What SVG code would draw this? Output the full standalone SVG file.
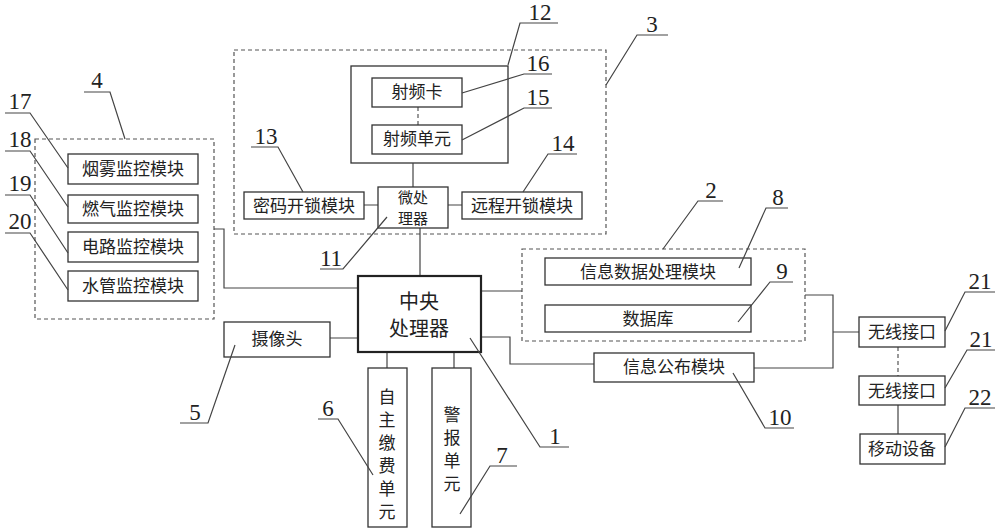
<svg xmlns="http://www.w3.org/2000/svg" width="1000" height="530" viewBox="0 0 1000 530">
<style>
.b{fill:#fff;stroke:#333;stroke-width:1.3}
.d{fill:none;stroke:#555;stroke-width:1.2;stroke-dasharray:4 3}
.l{fill:none;stroke:#444;stroke-width:1.2}
.t{font-family:"Noto Sans CJK SC",sans-serif;font-size:17px;fill:#222;text-anchor:middle}
.n{font-family:"Liberation Serif",serif;font-size:23px;fill:#222;text-anchor:middle}
</style>
<rect width="1000" height="530" fill="#fff"/>
<g id="group3"><rect class="d" x="234" y="50" width="372" height="184"/></g>
<g id="group4"><rect class="d" x="35" y="139" width="179" height="180"/></g>
<g id="group2"><rect class="d" x="522" y="249" width="283" height="92"/></g>
<g id="n12"><rect x="351" y="66" width="157" height="97" fill="none" stroke="#333" stroke-width="1.3"/></g>
<g id="connectors">
<path class="l" d="M413 163V187M364 205H378M448 205H462M420 228V276M214 229H224V288H358M330 338H358M387 352V368M454 352V368M481 291H522M481 337H510V364H594M805 295H833V368H754M833 332H859M898 405V434"/>
<path class="d" d="M418 107V125M898 347V376"/>
</g>
<g id="n17"><rect class="b" x="68" y="154" width="130" height="30"/><text class="t" x="133" y="175">烟雾监控模块</text></g>
<g id="n18"><rect class="b" x="68" y="195" width="130" height="28"/><text class="t" x="133" y="215">燃气监控模块</text></g>
<g id="n19"><rect class="b" x="68" y="232" width="130" height="30"/><text class="t" x="133" y="253">电路监控模块</text></g>
<g id="n20"><rect class="b" x="68" y="271" width="130" height="30"/><text class="t" x="133" y="292">水管监控模块</text></g>
<g id="n16"><rect class="b" x="372" y="78" width="90" height="29"/><text class="t" x="417" y="98">射频卡</text></g>
<g id="n15"><rect class="b" x="372" y="125" width="90" height="29"/><text class="t" x="417" y="145">射频单元</text></g>
<g id="n11"><rect class="b" x="378" y="187" width="70" height="41"/><text class="t" x="413" y="203" style="font-size:15px">微处</text><text class="t" x="413" y="224" style="font-size:15px">理器</text></g>
<g id="n13"><rect class="b" x="244" y="192" width="120" height="27"/><text class="t" x="304" y="212">密码开锁模块</text></g>
<g id="n14"><rect class="b" x="462" y="192" width="120" height="27"/><text class="t" x="522" y="212">远程开锁模块</text></g>
<g id="n1"><rect x="358" y="276" width="123" height="76" fill="#fff" stroke="#222" stroke-width="2.2"/><text class="t" x="419" y="309" style="font-size:20px">中央</text><text class="t" x="419" y="336" style="font-size:20px">处理器</text></g>
<g id="n5"><rect class="b" x="224" y="322" width="106" height="35"/><text class="t" x="277" y="345">摄像头</text></g>
<g id="n6"><rect class="b" x="368" y="368" width="39" height="159"/><text class="t" x="387" y="403">自<tspan x="387" dy="23">主</tspan><tspan x="387" dy="23">缴</tspan><tspan x="387" dy="23">费</tspan><tspan x="387" dy="23">单</tspan><tspan x="387" dy="23">元</tspan></text></g>
<g id="n7"><rect class="b" x="432" y="368" width="39" height="159"/><text class="t" x="452" y="421">警<tspan x="452" dy="23">报</tspan><tspan x="452" dy="23">单</tspan><tspan x="452" dy="23">元</tspan></text></g>
<g id="n8"><rect class="b" x="545" y="258" width="206" height="27"/><text class="t" x="648" y="278">信息数据处理模块</text></g>
<g id="n9"><rect class="b" x="545" y="305" width="206" height="27"/><text class="t" x="648" y="325">数据库</text></g>
<g id="n10"><rect class="b" x="594" y="353" width="160" height="29"/><text class="t" x="674" y="373">信息公布模块</text></g>
<g id="n21a"><rect class="b" x="859" y="317" width="86" height="30"/><text class="t" x="902" y="338">无线接口</text></g>
<g id="n21b"><rect class="b" x="859" y="376" width="86" height="29"/><text class="t" x="902" y="397">无线接口</text></g>
<g id="n22"><rect class="b" x="860" y="434" width="85" height="30"/><text class="t" x="902" y="455">移动设备</text></g>
<g id="leaders" class="l">
<path d="M84 92H110L125 139"/>
<path d="M5 113H30L68 168"/>
<path d="M5 151H30L68 207"/>
<path d="M5 195H30L68 253"/>
<path d="M5 233H30L68 290"/>
<path d="M558 23H520L508 65"/>
<path d="M552 74H524L462 93"/>
<path d="M552 108H524L462 140"/>
<path d="M251 147H278L303 192"/>
<path d="M577 154H548L523 192"/>
<path d="M668 35H637L606 85"/>
<path d="M320 269H343L387 217"/>
<path d="M180 423H208L235 345"/>
<path d="M318 419H338L373 475"/>
<path d="M517 466H490L460 514"/>
<path d="M569 447H540L470 338"/>
<path d="M723 201H698L663 249"/>
<path d="M788 208H766L739 268"/>
<path d="M793 282H770L738 322"/>
<path d="M794 428H765L733 373"/>
<path d="M995 292H965L945 331"/>
<path d="M995 350H967L945 388"/>
<path d="M995 408H965L945 447"/>
</g>
<g id="labels">
<text class="n" x="97" y="88">4</text>
<text class="n" x="20" y="109">17</text>
<text class="n" x="20" y="147">18</text>
<text class="n" x="20" y="191">19</text>
<text class="n" x="20" y="229">20</text>
<text class="n" x="540" y="20">12</text>
<text class="n" x="538" y="71">16</text>
<text class="n" x="538" y="105">15</text>
<text class="n" x="266" y="144">13</text>
<text class="n" x="563" y="151">14</text>
<text class="n" x="652" y="32">3</text>
<text class="n" x="331" y="266">11</text>
<text class="n" x="195" y="420">5</text>
<text class="n" x="328" y="416">6</text>
<text class="n" x="502" y="463">7</text>
<text class="n" x="555" y="444">1</text>
<text class="n" x="711" y="198">2</text>
<text class="n" x="778" y="205">8</text>
<text class="n" x="782" y="279">9</text>
<text class="n" x="780" y="425">10</text>
<text class="n" x="980" y="289">21</text>
<text class="n" x="981" y="347">21</text>
<text class="n" x="980" y="405">22</text>
</g>
</svg>
